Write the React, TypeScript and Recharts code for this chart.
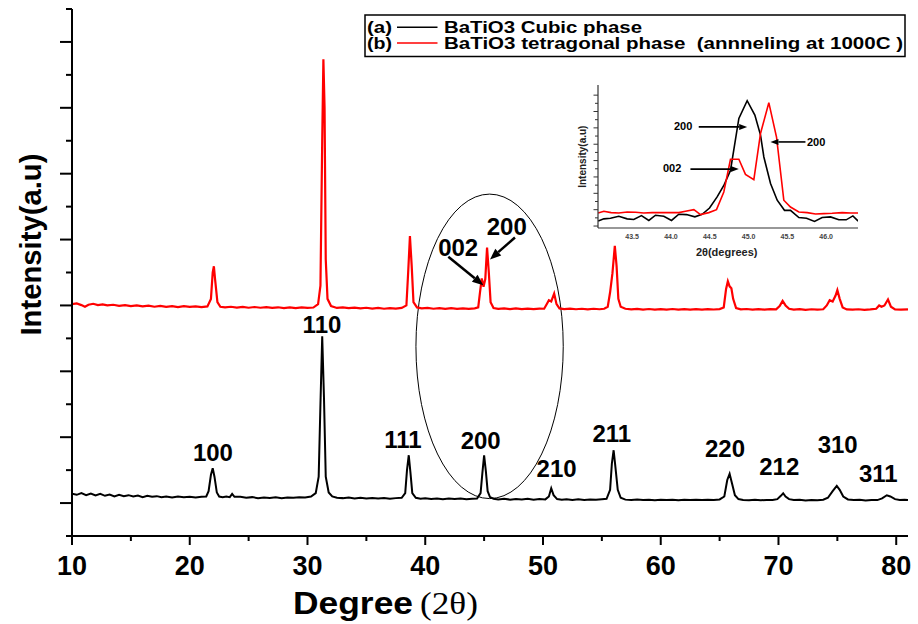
import React from 'react';
import { LineChart, Line, XAxis, YAxis, ReferenceDot, ReferenceLine, ReferenceArea } from 'recharts';

const FONT = '"Liberation Sans", Arial, Helvetica, sans-serif';
const SERIF = '"Liberation Serif", "Times New Roman", serif';

// ---------- data ----------
const seriesTags = ['(a)', '(b)'];
const seriesNames = ['BaTiO3 Cubic phase', 'BaTiO3 tetragonal phase  (annneling at 1000C )'];
const seriesColors = ['#000000', '#ff0000'];

const cubicPattern: [number, number][] = [
  [10.0, 640], [10.4, 625], [10.8, 650], [11.2, 620], [11.6, 645], [12.0, 615], [12.4, 640], [12.8, 610],
  [13.2, 630], [13.6, 600], [14.0, 625], [14.4, 605], [14.8, 620], [15.2, 600], [15.6, 615], [16.0, 590],
  [16.4, 610], [16.8, 595], [17.2, 605], [17.6, 590], [18.0, 600], [18.5, 585], [19.0, 600], [19.5, 590],
  [20.0, 595], [20.5, 585], [21.0, 595], [21.4, 600], [21.6, 680], [21.8, 930], [21.95, 1028], [22.1, 900],
  [22.3, 660], [22.5, 600], [22.8, 590], [23.1, 600], [23.4, 590], [23.6, 640], [23.8, 595], [24.3, 595],
  [24.8, 580], [25.3, 590], [25.8, 575], [26.3, 585], [26.8, 578], [27.3, 588], [27.8, 575], [28.3, 585],
  [28.8, 580], [29.3, 590], [29.8, 585], [30.3, 600], [30.7, 650], [30.95, 900], [31.1, 2000], [31.25, 3033],
  [31.4, 2100], [31.55, 900], [31.8, 660], [32.1, 600], [32.5, 580], [33.0, 575], [33.5, 585], [34.0, 570],
  [34.5, 580], [35.0, 568], [35.5, 578], [36.0, 570], [36.5, 575], [37.0, 565], [37.5, 575], [38.0, 580],
  [38.3, 650], [38.45, 1000], [38.6, 1226], [38.75, 950], [38.9, 650], [39.2, 580], [39.6, 565], [40.0, 572],
  [40.5, 560], [41.0, 570], [41.5, 558], [42.0, 568], [42.5, 560], [43.0, 570], [43.5, 558], [44.0, 566],
  [44.4, 570], [44.7, 650], [44.85, 950], [45.0, 1226], [45.15, 980], [45.3, 680], [45.5, 590], [45.8, 565],
  [46.2, 555], [46.7, 565], [47.2, 552], [47.7, 562], [48.2, 555], [48.7, 565], [49.2, 552], [49.7, 560],
  [50.2, 556], [50.5, 600], [50.7, 725], [50.9, 620], [51.2, 560], [51.6, 550], [52.0, 558], [52.5, 548],
  [53.0, 556], [53.5, 548], [54.0, 555], [54.5, 550], [55.0, 558], [55.4, 565], [55.7, 700], [55.85, 1100],
  [56.0, 1302], [56.15, 1050], [56.35, 700], [56.6, 580], [57.0, 552], [57.5, 545], [58.0, 553], [58.5, 546],
  [59.0, 552], [59.5, 544], [60.0, 550], [60.5, 545], [61.0, 552], [61.5, 544], [62.0, 550], [62.5, 546],
  [63.0, 552], [63.5, 545], [64.0, 550], [64.5, 548], [65.0, 555], [65.4, 600], [65.65, 850], [65.85, 943],
  [66.05, 800], [66.3, 620], [66.6, 560], [67.0, 548], [67.5, 542], [68.0, 550], [68.5, 543], [69.0, 548],
  [69.5, 545], [69.9, 560], [70.2, 610], [70.4, 649], [70.6, 600], [70.9, 560], [71.3, 545], [71.8, 550],
  [72.3, 540], [72.8, 548], [73.3, 542], [73.8, 550], [74.2, 580], [74.6, 680], [74.95, 760], [75.2, 700],
  [75.5, 600], [75.9, 555], [76.4, 545], [76.9, 550], [77.4, 540], [77.9, 548], [78.4, 545], [78.8, 570],
  [79.2, 618], [79.5, 600], [79.9, 560], [80.3, 545], [80.7, 550], [81.0, 545],
];

const tetragonalPattern: [number, number][] = [
  [10.0, 3520], [10.4, 3530], [10.8, 3505], [11.1, 3480], [11.4, 3510], [11.8, 3525], [12.2, 3505], [12.6, 3515],
  [13.0, 3500], [13.5, 3510], [14.0, 3495], [14.5, 3505], [15.0, 3490], [15.5, 3500], [16.0, 3485], [16.5, 3497],
  [17.0, 3480], [17.5, 3492], [18.0, 3478], [18.5, 3490], [19.0, 3475], [19.5, 3488], [20.0, 3478], [20.5, 3485],
  [21.0, 3475], [21.5, 3485], [21.8, 3600], [21.95, 4000], [22.05, 4094], [22.15, 3900], [22.35, 3550], [22.6, 3480],
  [23.0, 3470], [23.5, 3480], [24.0, 3468], [24.5, 3478], [25.0, 3465], [25.5, 3476], [26.0, 3465], [26.5, 3475],
  [27.0, 3462], [27.5, 3472], [28.0, 3460], [28.5, 3470], [29.0, 3458], [29.5, 3470], [30.0, 3462], [30.5, 3468],
  [30.9, 3520], [31.1, 3800], [31.25, 6000], [31.35, 7236], [31.45, 6500], [31.55, 4200], [31.7, 3600], [32.0, 3490],
  [32.5, 3462], [33.0, 3470], [33.5, 3458], [34.0, 3468], [34.5, 3455], [35.0, 3465], [35.5, 3452], [36.0, 3462],
  [36.5, 3450], [37.0, 3460], [37.5, 3452], [38.0, 3462], [38.4, 3500], [38.55, 4000], [38.7, 4552], [38.85, 4100],
  [39.0, 3550], [39.3, 3470], [39.7, 3455], [40.2, 3462], [40.7, 3450], [41.2, 3460], [41.7, 3448], [42.2, 3458],
  [42.7, 3447], [43.2, 3456], [43.7, 3448], [44.2, 3455], [44.5, 3470], [44.65, 3700], [44.8, 3909], [44.95, 3782],
  [45.1, 3900], [45.25, 4380], [45.4, 4000], [45.55, 3550], [45.8, 3460], [46.2, 3448], [46.7, 3455], [47.2, 3445],
  [47.7, 3454], [48.2, 3443], [48.7, 3452], [49.2, 3444], [49.7, 3453], [50.1, 3450], [50.35, 3530], [50.5, 3580],
  [50.7, 3560], [50.95, 3681], [51.15, 3520], [51.4, 3455], [51.8, 3445], [52.3, 3452], [52.8, 3442], [53.3, 3450],
  [53.8, 3440], [54.3, 3450], [54.8, 3442], [55.2, 3450], [55.5, 3480], [55.7, 3700], [55.9, 3990], [56.1, 4404],
  [56.25, 4100], [56.4, 3600], [56.6, 3480], [57.0, 3450], [57.5, 3440], [58.0, 3448], [58.5, 3438], [59.0, 3446],
  [59.5, 3436], [60.0, 3445], [60.5, 3437], [61.0, 3446], [61.5, 3436], [62.0, 3444], [62.5, 3436], [63.0, 3445],
  [63.5, 3437], [64.0, 3444], [64.5, 3438], [65.0, 3445], [65.35, 3470], [65.55, 3750], [65.7, 3868], [65.85, 3790],
  [66.0, 3760], [66.15, 3600], [66.4, 3460], [66.8, 3440], [67.3, 3446], [67.8, 3436], [68.3, 3444], [68.8, 3436],
  [69.3, 3443], [69.8, 3440], [70.1, 3490], [70.35, 3569], [70.6, 3500], [70.9, 3450], [71.3, 3438], [71.8, 3444],
  [72.3, 3434], [72.8, 3442], [73.3, 3435], [73.8, 3442], [74.1, 3500], [74.35, 3580], [74.6, 3560], [74.85, 3650],
  [75.0, 3732], [75.2, 3600], [75.45, 3470], [75.8, 3440], [76.3, 3435], [76.8, 3442], [77.3, 3434], [77.8, 3440],
  [78.3, 3450], [78.55, 3500], [78.75, 3480], [79.0, 3500], [79.3, 3590], [79.55, 3480], [79.9, 3440], [80.4, 3436],
  [81.0, 3440],
];

const insetCubic: [number, number][] = [
  [43.062, 15], [43.135, 22], [43.221, 24], [43.328, 30], [43.436, 22], [43.521, 20], [43.620, 32], [43.715, 17],
  [43.801, 33], [43.908, 30], [44.007, 17], [44.101, 36], [44.200, 35], [44.308, 28], [44.402, 36], [44.497, 55],
  [44.595, 89], [44.681, 124], [44.767, 170], [44.875, 329], [44.982, 383], [45.081, 339], [45.154, 278], [45.197, 211],
  [45.283, 130], [45.369, 79], [45.463, 48], [45.540, 48], [45.648, 26], [45.747, 24], [45.850, 14], [45.948, 26],
  [46.056, 28], [46.163, 19], [46.258, 19], [46.344, 31], [46.412, 15],
];

const insetTetragonal: [number, number][] = [
  [43.062, 40], [43.135, 45], [43.229, 41], [43.328, 40], [43.436, 43], [43.543, 42], [43.650, 40], [43.758, 41],
  [43.865, 41], [43.973, 41], [44.101, 41], [44.187, 45], [44.295, 50], [44.381, 35], [44.488, 41], [44.587, 50],
  [44.681, 104], [44.767, 204], [44.875, 204], [44.960, 158], [45.068, 142], [45.154, 283], [45.261, 377], [45.360, 272],
  [45.454, 79], [45.540, 58], [45.648, 43], [45.756, 41], [45.863, 37], [45.970, 38], [46.077, 39], [46.206, 41],
  [46.314, 40], [46.412, 40],
];

const xTicks = [10, 15, 20, 25, 30, 35, 40, 45, 50, 55, 60, 65, 70, 75, 80];
const yTicks = [0, 500, 1000, 1500, 2000, 2500, 3000, 3500, 4000, 4500, 5000, 5500, 6000, 6500, 7000, 7500, 8000];
const insetXTicks = [43.5, 44.0, 44.5, 45.0, 45.5, 46.0];
const insetYTicks = [0, 25, 50, 75, 100, 125, 150, 175, 200, 225, 250, 275, 300, 325, 350, 375, 400];

// hkl labels (anchor in data coordinates)
const cubicLabels: { text: string; deg: number; val: number }[] = [
  { text: '100', deg: 21.97, val: 1271 },
  { text: '110', deg: 31.23, val: 3215 },
  { text: '111', deg: 38.11, val: 1469 },
  { text: '200', deg: 44.71, val: 1453 },
  { text: '210', deg: 51.16, val: 1024 },
  { text: '211', deg: 55.84, val: 1555 },
  { text: '220', deg: 65.46, val: 1327 },
  { text: '212', deg: 70.07, val: 1059 },
  { text: '310', deg: 75.03, val: 1388 },
  { text: '311', deg: 78.48, val: 957 },
];
const tetraLabels: { text: string; deg: number; val: number }[] = [
  { text: '002', deg: 42.8, val: 4389 },
  { text: '200', deg: 46.92, val: 4693 },
];
const tetraArrows: [number, number, number, number][] = [
  [41.96, 4238, 44.93, 3808],
  [47.62, 4532, 45.5, 4198],
];
const zoomRegion = { deg1: 39.21, deg2: 51.72, val1: 568, val2: 5190 };

const insetLabels: { text: string; deg: number; val: number }[] = [
  { text: '200', deg: 44.157, val: 306 },
  { text: '200', deg: 45.871, val: 257 },
  { text: '002', deg: 44.015, val: 177 },
];
const insetArrows: [number, number, number, number][] = [
  [44.358, 303, 44.982, 303],
  [45.733, 257, 45.282, 257],
  [44.251, 174, 44.874, 174],
];

const toRows = (pairs: [number, number][]) => pairs.map(([x, y]) => ({ x, y }));

// ---------- custom pieces ----------
const MainXTick = (props: any) => {
  const { x, y, payload } = props;
  const major = payload.value % 10 === 0;
  return (
    <g>
      <line x1={x} y1={y} x2={x} y2={y + (major ? 9 : 5)} stroke="#000" strokeWidth={2} />
      {major && (
        <text x={x} y={y + 39} textAnchor="middle" fontFamily={FONT} fontWeight="bold" fontSize={27} fill="#000">
          {payload.value}
        </text>
      )}
    </g>
  );
};

const MainYTick = (props: any) => {
  const { x, y, payload } = props;
  const major = (payload.value / 500) % 2 === 1;
  return <line x1={x} y1={y} x2={x - (major ? 12 : 6)} y2={y} stroke="#000" strokeWidth={2} />;
};

const InsetXTick = (props: any) => {
  const { x, y, payload } = props;
  return (
    <text x={x} y={y + 11} textAnchor="middle" fontFamily={FONT} fontWeight="bold" fontSize={7} fill="#444">
      {Number(payload.value).toFixed(1)}
    </text>
  );
};

const InsetYTick = (props: any) => {
  const { x, y, payload } = props;
  const major = (payload.value / 25) % 2 === 0;
  return <line x1={x} y1={y} x2={x - (major ? 4.5 : 3)} y2={y} stroke="#333" strokeWidth={1} />;
};

const makeArrow = (w: number, headLen: number, headHalf: number, color: string) => (p: any) => {
  const { x1, y1, x2, y2 } = p;
  const dx = x2 - x1;
  const dy = y2 - y1;
  const len = Math.hypot(dx, dy) || 1;
  const ux = dx / len;
  const uy = dy / len;
  const bx = x2 - ux * headLen;
  const by = y2 - uy * headLen;
  const px = -uy * headHalf;
  const py = ux * headHalf;
  return (
    <g>
      <line x1={x1} y1={y1} x2={bx} y2={by} stroke={color} strokeWidth={w} />
      <polygon points={`${x2},${y2} ${bx + px},${by + py} ${bx - px},${by - py}`} fill={color} />
    </g>
  );
};

const makeLabel = (text: string, size: number) => (p: any) => (
  <text x={p.cx} y={p.cy} dy="0.36em" textAnchor="middle" fontFamily={FONT} fontWeight="bold" fontSize={size} fill="#000">
    {text}
  </text>
);

const EllipseShape = (p: any) => (
  <ellipse
    cx={p.x + p.width / 2}
    cy={p.y + p.height / 2}
    rx={Math.abs(p.width / 2)}
    ry={Math.abs(p.height / 2)}
    fill="none"
    stroke="#000"
    strokeWidth={1}
  />
);

const mainArrow = makeArrow(2.5, 11, 4.5, '#000');
const insetArrow = makeArrow(1.6, 8, 3, '#000');

export default function App() {
  const cubicRows = toRows(cubicPattern);
  const tetraRows = toRows(tetragonalPattern);
  const insetCubicRows = toRows(insetCubic);
  const insetTetraRows = toRows(insetTetragonal);

  return (
    <div style={{ position: 'absolute', left: 0, top: 0, width: 918, height: 624, background: '#fff' }}>
      <div style={{ position: 'absolute', left: 0, top: 0 }}>
        <LineChart width={918} height={624} margin={{ top: 9, right: 10, bottom: 28, left: 12 }}>
          <XAxis
            xAxisId={0}
            type="number"
            dataKey="x"
            domain={[10, 81]}
            ticks={xTicks}
            interval={0}
            allowDataOverflow
            height={60}
            tickLine={false}
            tickSize={0}
            tickMargin={0}
            axisLine={{ stroke: '#000', strokeWidth: 2 }}
            tick={<MainXTick />}
          />
          <XAxis
            xAxisId="top"
            orientation="top"
            type="number"
            domain={[10, 81]}
            height={0}
            tick={false}
            tickLine={false}
            axisLine={{ stroke: '#000', strokeWidth: 2 }}
          />
          <YAxis
            yAxisId={0}
            type="number"
            domain={[0, 8000]}
            ticks={yTicks}
            interval={0}
            allowDataOverflow
            width={60}
            tickLine={false}
            tickSize={0}
            tickMargin={0}
            axisLine={{ stroke: '#000', strokeWidth: 2 }}
            tick={<MainYTick />}
          />
          <YAxis
            yAxisId="right"
            orientation="right"
            type="number"
            domain={[0, 8000]}
            width={0}
            tick={false}
            tickLine={false}
            axisLine={{ stroke: '#000', strokeWidth: 2 }}
          />
          <ReferenceArea
            x1={zoomRegion.deg1}
            x2={zoomRegion.deg2}
            y1={zoomRegion.val1}
            y2={zoomRegion.val2}
            shape={EllipseShape}
            ifOverflow="visible"
          />
          <Line
            data={cubicRows}
            dataKey="y"
            name={seriesNames[0]}
            stroke={seriesColors[0]}
            strokeWidth={2}
            dot={false}
            activeDot={false}
            isAnimationActive={false}
            type="linear"
          />
          <Line
            data={tetraRows}
            dataKey="y"
            name={seriesNames[1]}
            stroke={seriesColors[1]}
            strokeWidth={2.2}
            dot={false}
            activeDot={false}
            isAnimationActive={false}
            type="linear"
          />
          {cubicLabels.map((l, i) => (
            <ReferenceDot key={'c' + i} x={l.deg} y={l.val} r={0} ifOverflow="visible" shape={makeLabel(l.text, 24)} />
          ))}
          {tetraLabels.map((l, i) => (
            <ReferenceDot key={'t' + i} x={l.deg} y={l.val} r={0} ifOverflow="visible" shape={makeLabel(l.text, 24)} />
          ))}
          {tetraArrows.map((a, i) => (
            <ReferenceLine
              key={'a' + i}
              segment={[{ x: a[0], y: a[1] }, { x: a[2], y: a[3] }]}
              ifOverflow="visible"
              shape={mainArrow}
            />
          ))}
        </LineChart>
      </div>

      <div style={{ position: 'absolute', left: 560, top: 80, width: 320, height: 190 }}>
        <LineChart width={320} height={190} margin={{ top: 5, right: 22, bottom: 22, left: 8 }}>
          <XAxis
            xAxisId={0}
            type="number"
            dataKey="x"
            domain={[43.06, 46.41]}
            ticks={insetXTicks}
            interval={0}
            allowDataOverflow
            height={20}
            tickLine={false}
            tickSize={0}
            tickMargin={0}
            axisLine={{ stroke: '#333', strokeWidth: 1.2 }}
            tick={<InsetXTick />}
          />
          <XAxis
            xAxisId="top"
            orientation="top"
            type="number"
            domain={[43.06, 46.41]}
            height={0}
            tick={false}
            tickLine={false}
            axisLine={{ stroke: '#333', strokeWidth: 1.2 }}
          />
          <YAxis
            yAxisId={0}
            type="number"
            domain={[-6, 431]}
            ticks={insetYTicks}
            interval={0}
            allowDataOverflow
            width={30}
            tickLine={false}
            tickSize={0}
            tickMargin={0}
            axisLine={{ stroke: '#333', strokeWidth: 1.2 }}
            tick={<InsetYTick />}
          />
          <YAxis
            yAxisId="right"
            orientation="right"
            type="number"
            domain={[-6, 431]}
            width={0}
            tick={false}
            tickLine={false}
            axisLine={{ stroke: '#333', strokeWidth: 1.2 }}
          />
          <Line
            data={insetCubicRows}
            dataKey="y"
            stroke={seriesColors[0]}
            strokeWidth={1.6}
            dot={false}
            activeDot={false}
            isAnimationActive={false}
            type="linear"
          />
          <Line
            data={insetTetraRows}
            dataKey="y"
            stroke={seriesColors[1]}
            strokeWidth={1.6}
            dot={false}
            activeDot={false}
            isAnimationActive={false}
            type="linear"
          />
          {insetLabels.map((l, i) => (
            <ReferenceDot key={'il' + i} x={l.deg} y={l.val} r={0} ifOverflow="visible" shape={makeLabel(l.text, 11)} />
          ))}
          {insetArrows.map((a, i) => (
            <ReferenceLine
              key={'ia' + i}
              segment={[{ x: a[0], y: a[1] }, { x: a[2], y: a[3] }]}
              ifOverflow="visible"
              shape={insetArrow}
            />
          ))}
        </LineChart>
      </div>

      <svg
        width={918}
        height={624}
        style={{ position: 'absolute', left: 0, top: 0, pointerEvents: 'none', overflow: 'visible' }}
      >
        {/* legend */}
        <rect x={365} y={15} width={540} height={41.5} fill="#fff" stroke="#000" strokeWidth={1.5} />
        {seriesNames.map((name, i) => {
          const cy = 27.3 + i * 15.7;
          return (
            <g key={name}>
              <text x={367} y={cy + 5.6} fontFamily={FONT} fontWeight="bold" fontSize={16} textLength={25} lengthAdjust="spacingAndGlyphs">
                {seriesTags[i]}
              </text>
              <line x1={397} y1={cy} x2={437.5} y2={cy} stroke={seriesColors[i]} strokeWidth={1.6} />
              <text
                x={444}
                y={cy + 5.6}
                fontFamily={FONT}
                fontWeight="bold"
                fontSize={16}
                textLength={i === 0 ? 198 : 459}
                lengthAdjust="spacingAndGlyphs"
                style={{ whiteSpace: 'pre' }}
              >
                {name}
              </text>
            </g>
          );
        })}

        {/* main axis titles */}
        <text
          transform="translate(40.5,244.6) rotate(-90)"
          textAnchor="middle"
          fontFamily={FONT}
          fontWeight="bold"
          fontSize={30}
          textLength={182}
          lengthAdjust="spacingAndGlyphs"
        >
          Intensity(a.u)
        </text>
        <text x={293} y={614} fontFamily={FONT} fontWeight="bold" fontSize={32} textLength={120} lengthAdjust="spacingAndGlyphs">
          Degree
        </text>
        <text x={420} y={614} fontFamily={SERIF} fontSize={32} textLength={58} lengthAdjust="spacingAndGlyphs">
          (2θ)
        </text>

        {/* inset axis titles */}
        <text
          transform="translate(585.5,156.7) rotate(-90)"
          textAnchor="middle"
          fontFamily={FONT}
          fontWeight="bold"
          fontSize={10}
          fill="#222"
        >
          Intensity(a.u)
        </text>
        <text x={726.7} y={256} textAnchor="middle" fontFamily={FONT} fontWeight="bold" fontSize={11} fill="#222">
          2θ(degrees)
        </text>
      </svg>
    </div>
  );
}
